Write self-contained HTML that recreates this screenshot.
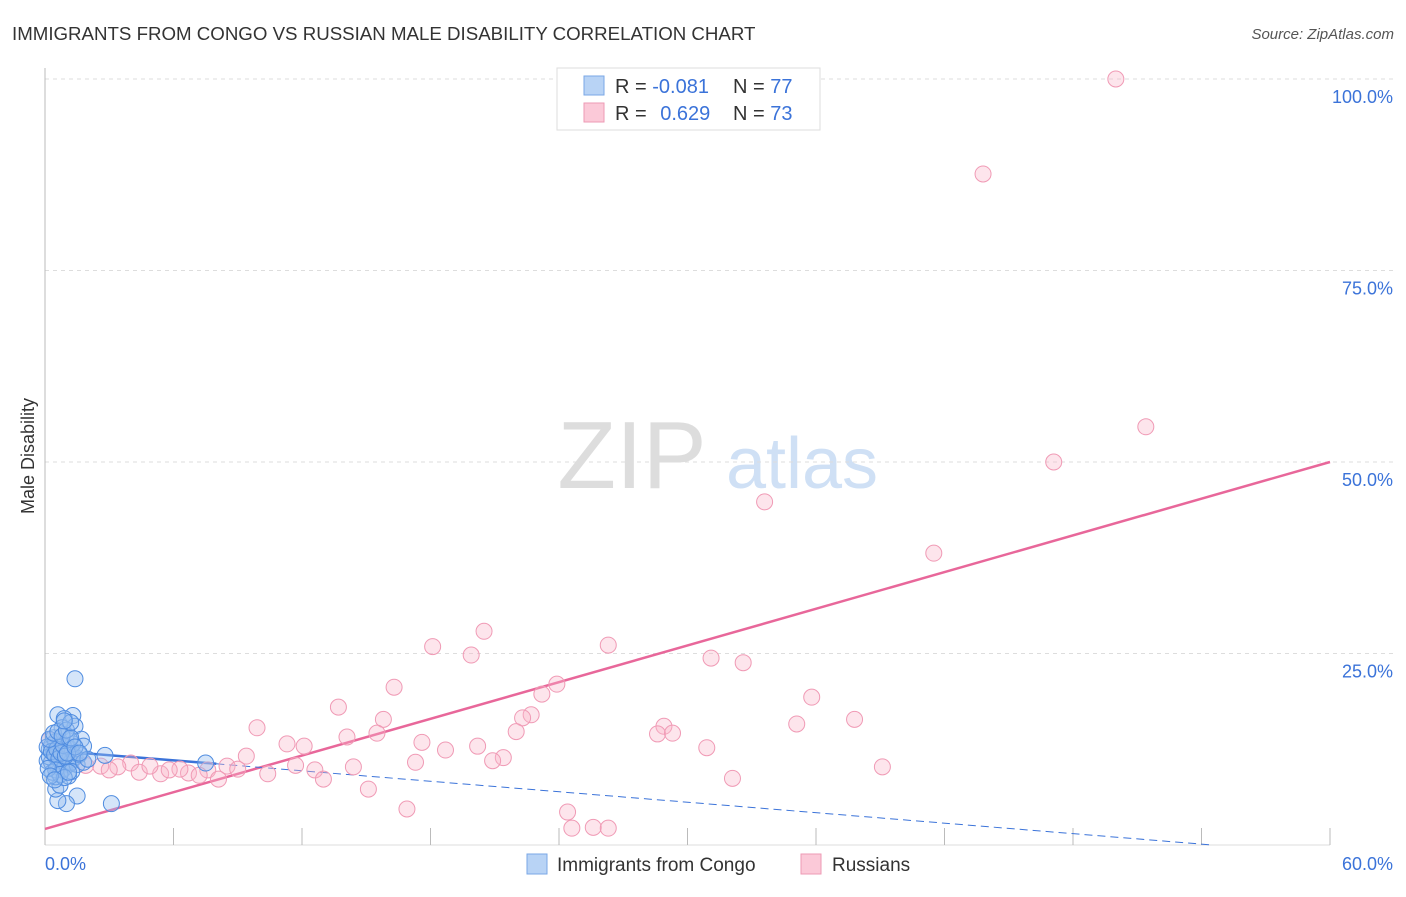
<!DOCTYPE html>
<html><head><meta charset="utf-8"><style>
body{margin:0;background:#fff;font-family:"Liberation Sans",sans-serif;}
svg text{font-family:"Liberation Sans",sans-serif;}
</style></head><body>
<svg id="chart" width="1406" height="892">
<text x="12" y="40" font-size="18.7" fill="#333">IMMIGRANTS FROM CONGO VS RUSSIAN MALE DISABILITY CORRELATION CHART</text>
<text x="1394" y="39" font-size="15" fill="#555" font-style="italic" text-anchor="end">Source: ZipAtlas.com</text>
<text x="34" y="456" font-size="18" fill="#333" text-anchor="middle" transform="rotate(-90 34 456)">Male Disability</text>
<g>
<text x="632" y="488" font-size="96" fill="#ddd" font-family="Liberation Serif" text-anchor="middle">ZIP</text>
<text x="802" y="488" font-size="72" fill="#cfe0f5" text-anchor="middle">atlas</text>
</g>
<g id="grid"></g><g id="axes"></g><g id="lines"></g><g id="pts"></g>
<g>
<rect x="557" y="68" width="263" height="62" fill="#fff" stroke="#ddd"/>
<rect x="584" y="76" width="20" height="19" fill="#b8d3f5" stroke="#7aa7e6"/>
<rect x="584" y="103" width="20" height="19" fill="#fbc9d8" stroke="#ee9ab4"/>
<text x="615" y="93" font-size="20" fill="#333">R = <tspan fill="#3b73d9">-0.081</tspan></text>
<text x="733" y="93" font-size="20" fill="#333">N = <tspan fill="#3b73d9">77</tspan></text>
<text x="615" y="120" font-size="20" fill="#333">R = <tspan fill="#3b73d9" dx="8">0.629</tspan></text>
<text x="733" y="120" font-size="20" fill="#333">N = <tspan fill="#3b73d9">73</tspan></text>
</g>
<g>
<rect x="527" y="854" width="20" height="20" fill="#b8d3f5" stroke="#7aa7e6"/>
<text x="557" y="871" font-size="19" fill="#333">Immigrants from Congo</text>
<rect x="801" y="854" width="20" height="20" fill="#fbc9d8" stroke="#ee9ab4"/>
<text x="832" y="871" font-size="19" fill="#333">Russians</text>
</g>
</svg>
<script>
const yTicks=[25,50,75,100];
const yTickLabels=["25.0%","50.0%","75.0%","100.0%"];
const xTickLabels=["0.0%","60.0%"];
const pinkX=[50.0,43.8,51.4,47.1,33.6,41.5,20.5,18.1,19.9,26.3,31.1,32.6,16.3,23.9,23.2,35.8,13.7,22.7,22.3,15.8,37.8,35.1,28.9,9.9,14.1,15.5,28.6,29.3,22.0,17.6,11.3,12.1,20.2,30.9,18.7,9.4,21.4,20.9,17.3,11.7,14.4,39.1,12.6,13.0,10.4,8.5,7.6,6.7,5.4,4.0,3.4,2.6,1.9,1.2,4.4,6.3,7.2,8.1,9.0,32.1,15.1,16.9,24.4,24.6,25.6,26.3,0.5,0.7,0.2,1.4,3.0,4.9,5.8];
const pinkY=[100.0,87.6,54.6,50.0,44.8,38.1,27.9,25.9,24.8,26.1,24.4,23.8,20.6,21.0,19.7,19.3,18.0,17.0,16.6,16.4,16.4,15.8,15.5,15.3,14.1,14.6,14.5,14.6,14.8,13.4,13.2,12.9,12.9,12.7,12.4,11.6,11.4,11.0,10.8,10.4,10.2,10.2,9.8,8.6,9.3,10.3,9.8,9.4,9.3,10.7,10.2,10.3,10.4,10.8,9.5,9.9,9.1,8.6,9.9,8.7,7.3,4.7,4.3,2.2,2.3,2.2,12.1,13.1,13.7,11.4,9.8,10.3,9.8];
const blueX=[1.4,0.6,1.3,0.9,0.8,1.4,1.0,1.7,1.8,2.8,7.5,3.1,1.5,1.0,0.6,0.5,0.7,1.1,0.5,0.1,0.2,0.3,0.4,0.5,0.6,0.7,0.8,0.9,1.0,1.1,1.2,1.3,0.3,0.4,0.5,0.6,0.7,0.8,0.9,1.0,1.2,1.4,1.5,1.6,1.3,0.2,0.1,0.3,0.45,0.55,0.65,0.75,0.85,0.95,1.05,1.15,1.25,0.35,0.5,0.7,0.9,1.1,1.8,2.0,0.2,0.4,0.6,0.8,1.0,1.2,1.4,1.6,0.15,0.25,0.45,1.2,0.9];
const blueY=[21.7,17.0,16.9,16.5,15.3,15.5,14.3,13.8,12.9,11.7,10.7,5.4,6.4,5.4,5.8,7.3,7.8,9.0,8.9,11.0,12.5,13.0,12.0,11.5,12.8,13.5,11.8,12.2,11.0,10.5,12.5,11.2,10.8,14.0,13.5,10.2,11.0,9.8,10.0,12.8,10.8,11.5,10.5,11.8,13.2,11.5,12.8,12.2,11.8,12.5,11.3,12.0,13.0,11.6,12.0,13.8,9.6,9.5,9.8,9.2,8.8,9.5,10.8,11.2,13.8,14.6,14.8,14.2,15.0,14.0,12.8,12.0,10.0,9.0,8.5,16.0,16.2];
const pinkTrend=[[0,2.1],[60,50]];
const blueTrend=[[0,12.4],[8,10.6],[54.5,0]];
const NS="http://www.w3.org/2000/svg";
const X0=45,X1=1330,Y0=845,Y100=79;
const sx=v=>X0+(X1-X0)*v/60, sy=v=>Y0-(Y0-Y100)*v/100;
function mk(t,a,p){const e=document.createElementNS(NS,t);for(const k in a)e.setAttribute(k,a[k]);document.getElementById(p).appendChild(e);return e;}
yTicks.forEach((t,i)=>{
 const g=mk('line',{x1:X0,x2:1394,y1:sy(t),y2:sy(t),stroke:'#ddd','stroke-dasharray':'4 4'},'grid');
 
 
 const l=mk('text',{x:1393,y:sy(t)+24,'font-size':18,fill:'#3b73d9','text-anchor':'end'},'grid');
 l.textContent=yTickLabels[i];
 
 
});
const ya=mk('line',{x1:X0,x2:X0,y1:68,y2:Y0,stroke:'#bbb'},'axes');


const xa=mk('line',{x1:X0,x2:X1,y1:Y0,y2:Y0,stroke:'#ddd'},'axes');


for(let v=0;v<=60;v+=6){const t=mk('line',{x1:sx(v),x2:sx(v),y1:828,y2:Y0,stroke:'#bbb'},'axes');
 
 }
const xl0=mk('text',{x:45,y:870,'font-size':18,fill:'#3b73d9'},'axes');xl0.textContent=xTickLabels[0];


const xl1=mk('text',{x:1393,y:870,'font-size':18,fill:'#3b73d9','text-anchor':'end'},'axes');xl1.textContent=xTickLabels[1];


pinkX.forEach((x,i)=>{const c=mk('circle',{cx:sx(x),cy:sy(pinkY[i]),r:8,fill:'rgba(248,180,200,0.35)',stroke:'#f09ab5','stroke-width':1},'pts');
 
 });
blueX.forEach((x,i)=>{const c=mk('circle',{cx:sx(x),cy:sy(blueY[i]),r:8,fill:'rgba(150,190,240,0.4)',stroke:'#4f8ce0','stroke-width':1},'pts');
 
 });
const pl=mk('line',{x1:sx(pinkTrend[0][0]),y1:sy(pinkTrend[0][1]),x2:sx(pinkTrend[1][0]),y2:sy(pinkTrend[1][1]),stroke:'#e8679a','stroke-width':2.5},'lines');


const bl=mk('line',{x1:sx(blueTrend[0][0]),y1:sy(blueTrend[0][1]),x2:sx(blueTrend[1][0]),y2:sy(blueTrend[1][1]),stroke:'#3b73d9','stroke-width':2.5},'lines');


const bd=mk('line',{x1:sx(blueTrend[1][0]),y1:sy(blueTrend[1][1]),x2:sx(blueTrend[2][0]),y2:sy(blueTrend[2][1]),stroke:'#3b73d9','stroke-width':1,'stroke-dasharray':'8 5'},'lines');


</script>
</body></html>
